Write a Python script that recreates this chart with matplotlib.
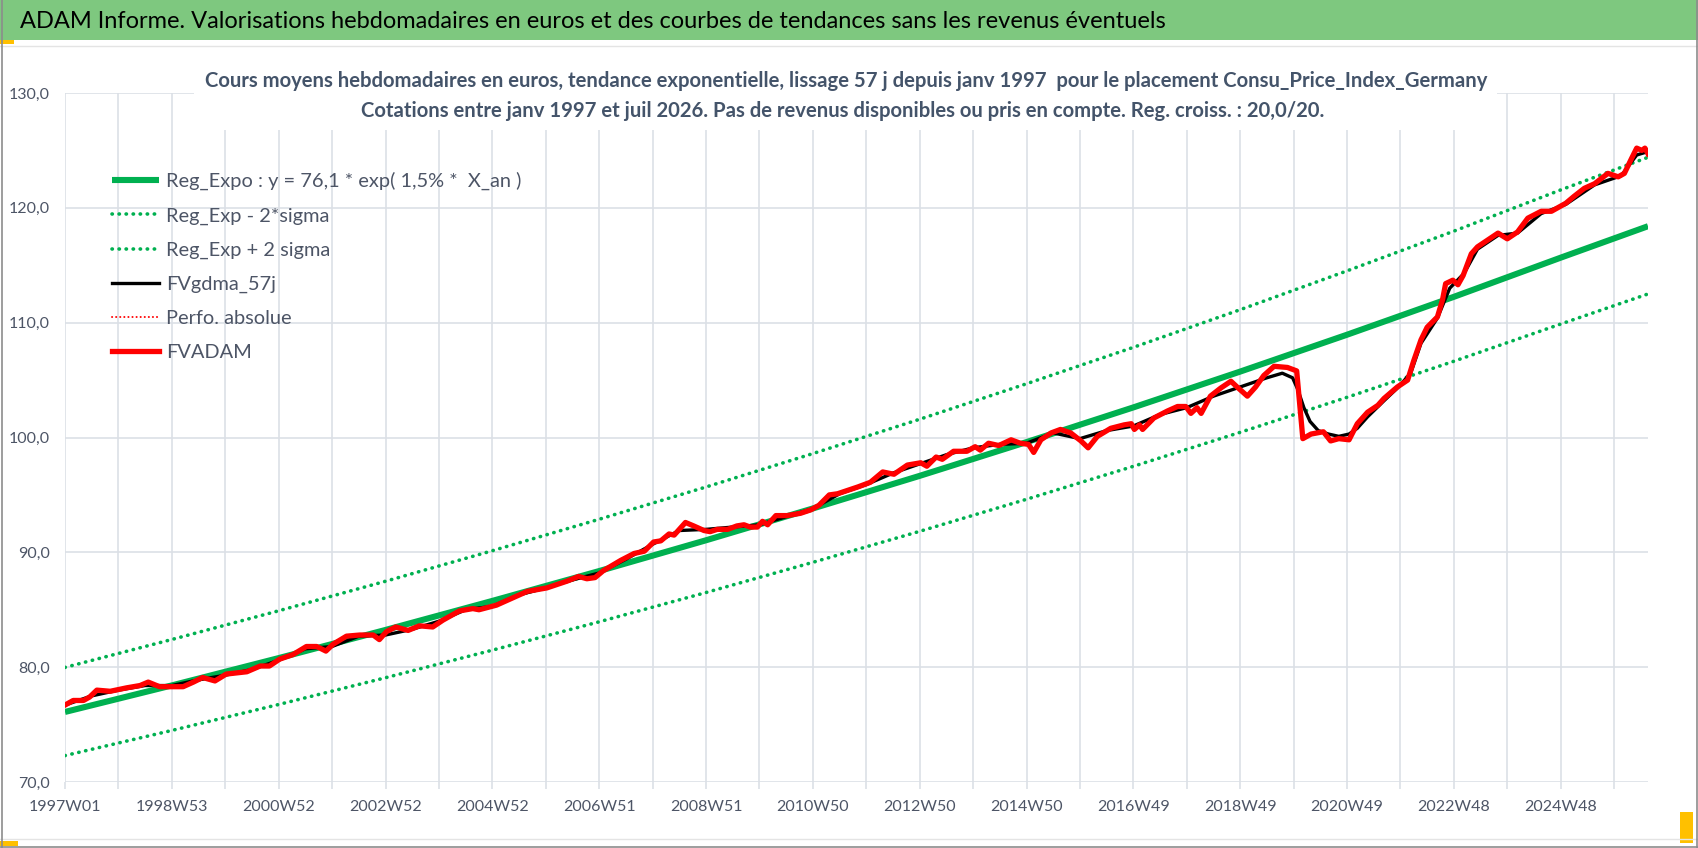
import matplotlib
matplotlib.use("Agg")
import matplotlib.pyplot as plt
from matplotlib.patches import Rectangle
from matplotlib.ticker import FuncFormatter

# weekly index (0 = 1997W01)
red_weeks = [0, 8, 18, 24, 31, 44, 60, 73, 81, 92, 105, 115, 125, 134, 146, 157, 177, 190, 199, 209,
             222, 235, 245, 254, 261, 274, 287, 300, 306, 313, 322, 334, 345, 358, 368, 384, 397, 403,
             420, 435, 450, 469, 489, 500, 508, 516, 524, 541, 554, 564, 573, 580, 588, 593, 604, 612,
             622, 628, 635, 645, 654, 661, 667, 674, 679, 684, 692, 703, 716, 726, 734, 744, 752, 762,
             772, 784, 796, 807, 820, 833, 839, 848, 854, 865, 878, 886, 891, 899, 909, 921, 930, 938,
             943, 950, 960, 969, 979, 989, 996, 1005, 1018, 1031, 1038, 1041, 1046, 1049, 1060, 1073,
             1083, 1091, 1096, 1102, 1106, 1115, 1125, 1135, 1141, 1151, 1159, 1167, 1177, 1190, 1199,
             1205, 1213, 1225, 1232, 1240, 1250, 1258, 1268, 1278, 1284, 1297, 1307, 1313, 1320, 1326,
             1336, 1341, 1344, 1351, 1356, 1361, 1369, 1375, 1385, 1395, 1404, 1414, 1424, 1437, 1447,
             1455, 1461, 1469, 1479, 1489, 1502, 1512, 1518, 1525, 1530, 1535, 1538, 1541]
red_values = [76.7, 77.1, 77.1, 77.4, 78.0, 77.9, 78.2, 78.4, 78.7, 78.3, 78.3, 78.3, 78.7, 79.1, 78.8,
              79.4, 79.6, 80.1, 80.1, 80.7, 81.1, 81.8, 81.8, 81.4, 82.0, 82.7, 82.8, 82.8, 82.4, 83.1,
              83.5, 83.2, 83.6, 83.5, 84.1, 84.9, 85.1, 85.0, 85.4, 86.0, 86.6, 86.9, 87.5, 87.9, 87.7,
              87.8, 88.4, 89.3, 89.9, 90.1, 90.9, 91.0, 91.6, 91.5, 92.6, 92.3, 91.9, 91.8, 92.0, 92.0,
              92.3, 92.4, 92.2, 92.2, 92.7, 92.4, 93.2, 93.2, 93.4, 93.7, 94.1, 95.0, 95.1, 95.4, 95.7,
              96.1, 97.0, 96.8, 97.6, 97.8, 97.5, 98.3, 98.1, 98.8, 98.8, 99.2, 98.9, 99.5, 99.3, 99.8,
              99.5, 99.4, 98.7, 99.8, 100.4, 100.7, 100.4, 99.7, 99.1, 100.1, 100.8, 101.1, 101.2, 100.7,
              101.1, 100.7, 101.7, 102.3, 102.7, 102.7, 102.1, 102.6, 102.1, 103.6, 104.3, 104.9, 104.4,
              103.6, 104.4, 105.4, 106.2, 106.1, 105.8, 99.9, 100.3, 100.5, 99.7, 99.9, 99.8, 101.2,
              102.2, 102.8, 103.4, 104.4, 105.0, 106.7, 108.5, 109.6, 110.5, 112.0, 113.4, 113.7, 113.3,
              114.1, 116.0, 116.6, 117.2, 117.8, 117.3, 117.9, 119.1, 119.7, 119.7, 120.1, 120.4, 121.0,
              121.7, 122.1, 123.0, 122.7, 123.0, 124.3, 125.2, 125.0, 125.2, 124.7]

smooth_weeks = [0, 26, 52, 78, 104, 130, 156, 182, 208, 234, 260, 286, 312, 338, 364, 390, 416, 442,
                468, 494, 520, 546, 572, 598, 624, 650, 676, 702, 728, 754, 780, 806, 832, 858, 884,
                910, 936, 962, 988, 1014, 1040, 1066, 1092, 1118, 1144, 1170, 1185, 1195, 1200, 1206,
                1212, 1220, 1230, 1240, 1250, 1258, 1268, 1284, 1297, 1310, 1320, 1336, 1348, 1362,
                1375, 1395, 1414, 1437, 1461, 1489, 1515, 1530, 1541]
smooth_values = [76.7, 77.5, 78.0, 78.4, 78.4, 78.9, 79.3, 79.8, 80.6, 81.6, 81.8, 82.7, 82.8, 83.3,
                 84.0, 85.0, 85.3, 86.3, 86.9, 87.6, 88.2, 89.4, 90.7, 91.9, 92.0, 92.2, 92.4, 93.1,
                 93.8, 95.1, 95.9, 96.9, 97.7, 98.5, 99.1, 99.4, 99.5, 100.4, 99.9, 100.6, 101.0, 102.0,
                 102.6, 103.6, 104.4, 105.2, 105.6, 105.2, 104.2, 102.6, 101.4, 100.6, 100.3, 100.1,
                 100.3, 100.8, 101.8, 103.2, 104.3, 105.6, 108.2, 110.4, 113.0, 114.3, 116.4, 117.6,
                 117.8, 119.5, 120.3, 122.0, 122.8, 124.6, 124.9]

trend_weeks = [0, 104, 208, 312, 416, 520, 624, 728, 832, 936, 1040, 1144, 1248, 1352, 1456, 1541]
trend_values = [76.10, 78.41, 80.79, 83.24, 85.77, 88.37, 91.05, 93.82, 96.66, 99.60, 102.62,
                105.74, 108.95, 112.25, 115.66, 118.4]
upper_values = [79.98, 82.41, 84.91, 87.48, 90.14, 92.88, 95.69, 98.60, 101.59, 104.68, 107.85,
                111.13, 114.51, 117.97, 121.56, 124.4]
lower_values = [72.30, 74.49, 76.75, 79.08, 81.48, 83.95, 86.50, 89.13, 91.83, 94.62, 97.49,
                100.45, 103.50, 106.64, 109.88, 112.5]

x_labels = ["1997W01", "1998W53", "2000W52", "2002W52", "2004W52", "2006W51", "2008W51", "2010W50",
            "2012W50", "2014W50", "2016W49", "2018W49", "2020W49", "2022W48", "2024W48"]
last_week = 1541

W, H = 1698, 848
GREEN = "#00B050"
GRID = "#DCE0E6"
TXT = "#4D5566"
FONT = "Lato"


def fx(px):
    return px / W


def fy(py):
    return 1 - py / H


fig = plt.figure(figsize=(W / 100, H / 100), dpi=100)
fig.patch.set_facecolor("white")

# header band
fig.add_artist(Rectangle((0, fy(40)), 1, 40 / H, transform=fig.transFigure,
                         facecolor="#7EC87F", edgecolor="none", zorder=0))
fig.add_artist(Rectangle((0, fy(44)), fx(14), 4 / H, transform=fig.transFigure,
                         facecolor="#FFC000", edgecolor="none", zorder=1))
fig.text(fx(20), fy(21), "ADAM Informe. Valorisations hebdomadaires en euros et des courbes de "
         "tendances sans les revenus éventuels", fontsize=17, family=FONT, color="black",
         va="center", ha="left")
# frame lines
fig.add_artist(plt.Line2D([0, 1], [fy(46), fy(46)], transform=fig.transFigure, color="#E4E4E4", lw=1))
fig.add_artist(plt.Line2D([0, 1], [fy(839), fy(839)], transform=fig.transFigure, color="#E4E4E4", lw=1))
fig.add_artist(plt.Line2D([fx(1.5), fx(1.5)], [0, 1], transform=fig.transFigure, color="#8C8C8C", lw=1.2))
fig.add_artist(plt.Line2D([0, 1], [fy(846.5), fy(846.5)], transform=fig.transFigure, color="#8C8C8C", lw=1.2))
fig.add_artist(plt.Line2D([fx(1696.5), fx(1696.5)], [0, 1], transform=fig.transFigure, color="#8C8C8C", lw=1.2))
fig.add_artist(Rectangle((0, fy(846)), fx(18), 5 / H, transform=fig.transFigure,
                         facecolor="#FFC000", edgecolor="none"))
fig.add_artist(Rectangle((fx(1680), fy(843)), fx(13), 31 / H, transform=fig.transFigure,
                         facecolor="#FFC000", edgecolor="none"))

ax = fig.add_axes([fx(65), fy(782), fx(1648) - fx(65), fy(93) - fy(782)])

dot = dict(linestyle=(0, (0.1, 1.85)), dash_capstyle="round", lw=2.6, color=GREEN)
ax.plot(trend_weeks, trend_values, color=GREEN, lw=4.4, solid_capstyle="butt",
        label="Reg_Expo : y = 76,1 * exp( 1,5% *  X_an )", zorder=3)
ax.plot(trend_weeks, lower_values, label="Reg_Exp - 2*sigma", zorder=3, **dot)
ax.plot(trend_weeks, upper_values, label="Reg_Exp + 2 sigma", zorder=3, **dot)
ax.plot(smooth_weeks, smooth_values, color="black", lw=2.4, label="FVgdma_57j", zorder=4)
ax.plot(red_weeks, red_values, color="#FF0000", lw=1.4, linestyle=(0, (0.1, 2.0)),
        dash_capstyle="round", label="Perfo. absolue", zorder=4)
ax.plot(red_weeks, red_values, color="#FF0000", lw=3.8, solid_joinstyle="round",
        label="FVADAM", zorder=5)

ax.set_xlim(0, last_week)
ax.set_ylim(70, 130)
label_weeks = list(range(0, 104 * len(x_labels), 104))
ax.set_xticks(label_weeks)
ax.set_xticklabels(x_labels)
ax.set_xticks(list(range(52, last_week, 104)), minor=True)
ax.set_yticks(range(70, 131, 10))
ax.yaxis.set_major_formatter(FuncFormatter(lambda v, p: f"{v:.1f}".replace(".", ",")))
ax.grid(which="both", axis="x", color=GRID, lw=1.2)
ax.grid(axis="y", color=GRID, lw=1.2)
ax.set_axisbelow(True)
for s in ax.spines.values():
    s.set_visible(False)
ax.tick_params(axis="x", which="both", length=5, color=GRID, width=1.2, pad=8,
               labelsize=11.5, labelcolor=TXT)
ax.tick_params(axis="y", length=0, pad=11, labelsize=11.5, labelcolor=TXT)
for t in ax.get_xticklabels() + ax.get_yticklabels():
    t.set_family(FONT)

leg = ax.legend(loc="upper left", bbox_to_anchor=(0.0297, 0.8853), frameon=False,
                prop={"family": FONT, "size": 14.4}, handlelength=2.35, handletextpad=0.35,
                labelspacing=0.85, borderpad=0, borderaxespad=0)
for t in leg.get_texts():
    t.set_color(TXT)

# chart title box (covers gridlines)
fig.add_artist(Rectangle((fx(194), fy(130)), fx(1497) - fx(194), 70 / H,
                         transform=fig.transFigure, facecolor="white", edgecolor="none", zorder=3))
fig.text(fx(846), fy(81), "Cours moyens hebdomadaires en euros, tendance exponentielle, lissage 57 j "
         "depuis janv 1997  pour le placement Consu_Price_Index_Germany", fontsize=14.6,
         family=FONT, weight="bold", color="#44546A", ha="center", va="center", zorder=4)
fig.text(fx(843), fy(111), "Cotations entre janv 1997 et juil 2026. Pas de revenus disponibles ou "
         "pris en compte. Reg. croiss. : 20,0/20.", fontsize=14.6, family=FONT, weight="bold",
         color="#44546A", ha="center", va="center", zorder=4)

fig.savefig("out.png", dpi=100)
